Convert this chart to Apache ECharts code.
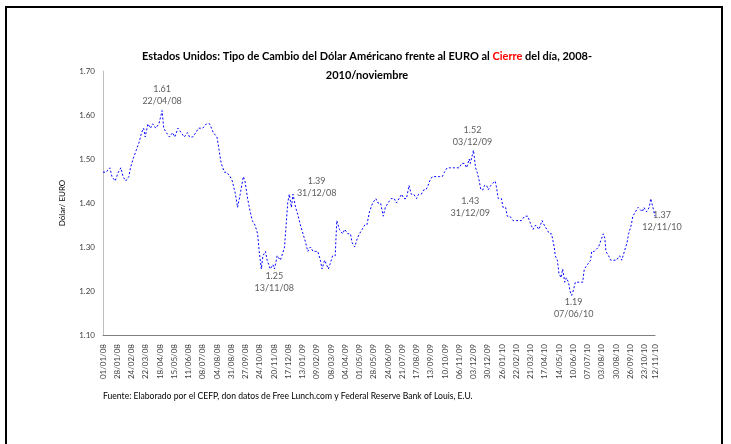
<!DOCTYPE html>
<html>
<head>
<meta charset="utf-8">
<script src="https://cdn.jsdelivr.net/npm/echarts@6/dist/echarts.min.js"></script>
<style>html,body{margin:0;padding:0;background:#fff}#c{width:731px;height:444px}</style>
</head>
<body>
<div id="c"></div>
<script>
// ---- data ----
const obsDates = ['01/01/08','07/01/08','14/01/08','18/01/08','24/01/08','30/01/08','04/02/08','08/02/08','13/02/08','19/02/08','22/02/08','27/02/08','04/03/08','10/03/08','14/03/08','18/03/08','21/03/08','26/03/08','31/03/08','04/04/08','10/04/08','16/04/08','22/04/08','25/04/08','30/04/08','06/05/08','12/05/08','16/05/08','22/05/08','28/05/08','03/06/08','09/06/08','13/06/08','19/06/08','25/06/08','30/06/08','08/07/08','15/07/08','21/07/08','28/07/08','04/08/08','08/08/08','12/08/08','18/08/08','22/08/08','29/08/08','02/09/08','08/09/08','12/09/08','17/09/08','23/09/08','26/09/08','01/10/08','06/10/08','10/10/08','15/10/08','20/10/08','23/10/08','27/10/08','30/10/08','04/11/08','07/11/08','13/11/08','18/11/08','21/11/08','26/11/08','02/12/08','05/12/08','10/12/08','16/12/08','19/12/08','23/12/08','26/12/08','31/12/08','05/01/09','09/01/09','14/01/09','19/01/09','23/01/09','28/01/09','02/02/09','06/02/09','11/02/09','16/02/09','19/02/09','24/02/09','27/02/09','03/03/09','06/03/09','11/03/09','16/03/09','19/03/09','24/03/09','30/03/09','03/04/09','09/04/09','14/04/09','17/04/09','22/04/09','27/04/09','01/05/09','06/05/09','11/05/09','15/05/09','20/05/09','26/05/09','01/06/09','05/06/09','10/06/09','15/06/09','19/06/09','24/06/09','30/06/09','06/07/09','10/07/09','15/07/09','20/07/09','24/07/09','29/07/09','03/08/09','07/08/09','12/08/09','17/08/09','21/08/09','26/08/09','31/08/09','04/09/09','08/09/09','11/09/09','16/09/09','21/09/09','25/09/09','30/09/09','05/10/09','09/10/09','14/10/09','19/10/09','23/10/09','28/10/09','02/11/09','06/11/09','11/11/09','16/11/09','20/11/09','25/11/09','27/11/09','01/12/09','03/12/09','07/12/09','10/12/09','14/12/09','17/12/09','21/12/09','24/12/09','28/12/09','31/12/09','05/01/10','08/01/10','13/01/10','15/01/10','19/01/10','25/01/10','28/01/10','02/02/10','05/02/10','10/02/10','16/02/10','22/02/10','26/02/10','04/03/10','10/03/10','16/03/10','22/03/10','26/03/10','31/03/10','06/04/10','12/04/10','16/04/10','21/04/10','26/04/10','30/04/10','05/05/10','07/05/10','11/05/10','14/05/10','18/05/10','21/05/10','25/05/10','28/05/10','01/06/10','04/06/10','07/06/10','10/06/10','14/06/10','21/06/10','28/06/10','01/07/10','07/07/10','13/07/10','15/07/10','20/07/10','23/07/10','28/07/10','03/08/10','06/08/10','09/08/10','11/08/10','16/08/10','20/08/10','25/08/10','31/08/10','06/09/10','10/09/10','15/09/10','20/09/10','23/09/10','28/09/10','01/10/10','06/10/10','11/10/10','14/10/10','19/10/10','22/10/10','27/10/10','01/11/10','04/11/10','08/11/10','12/11/10'];
const obsValues = [1.47,1.47,1.48,1.46,1.45,1.47,1.48,1.46,1.45,1.46,1.48,1.50,1.52,1.54,1.56,1.57,1.55,1.58,1.57,1.58,1.57,1.58,1.61,1.57,1.56,1.55,1.56,1.55,1.57,1.56,1.55,1.56,1.55,1.55,1.56,1.57,1.57,1.58,1.58,1.56,1.55,1.52,1.49,1.47,1.47,1.46,1.45,1.42,1.39,1.42,1.46,1.45,1.41,1.38,1.36,1.35,1.33,1.29,1.25,1.28,1.29,1.27,1.25,1.26,1.25,1.28,1.27,1.28,1.30,1.40,1.42,1.39,1.42,1.39,1.37,1.35,1.33,1.31,1.29,1.30,1.29,1.29,1.29,1.27,1.25,1.27,1.27,1.25,1.26,1.28,1.28,1.36,1.34,1.33,1.34,1.33,1.33,1.31,1.30,1.32,1.33,1.34,1.35,1.35,1.38,1.40,1.41,1.40,1.40,1.37,1.39,1.40,1.41,1.41,1.40,1.41,1.42,1.41,1.41,1.44,1.42,1.42,1.41,1.42,1.42,1.43,1.43,1.44,1.45,1.46,1.46,1.46,1.46,1.46,1.47,1.48,1.48,1.48,1.48,1.48,1.48,1.49,1.49,1.48,1.50,1.49,1.51,1.52,1.48,1.47,1.45,1.43,1.43,1.44,1.44,1.43,1.44,1.44,1.45,1.44,1.41,1.41,1.39,1.39,1.37,1.37,1.36,1.36,1.36,1.36,1.37,1.37,1.35,1.34,1.35,1.34,1.36,1.35,1.34,1.33,1.33,1.30,1.28,1.27,1.24,1.23,1.25,1.22,1.23,1.22,1.20,1.19,1.20,1.22,1.22,1.22,1.25,1.26,1.27,1.29,1.29,1.29,1.30,1.32,1.33,1.32,1.29,1.28,1.27,1.27,1.27,1.28,1.27,1.29,1.31,1.33,1.35,1.37,1.38,1.39,1.39,1.38,1.39,1.38,1.39,1.41,1.39,1.37];
const annotDates  = ['22/04/08','13/11/08','31/12/08','03/12/09','31/12/09','07/06/10','12/11/10'];
const annotValues = [1.61,1.25,1.39,1.52,1.43,1.19,1.37];
const yTicks = ['1.10','1.20','1.30','1.40','1.50','1.60','1.70'];
const firstDay = [2008,0,1], lastDay = [2010,10,12];

// ---- category axis: every calendar day ----
function fmt(d){const p=n=>String(n).padStart(2,'0');return p(d.getUTCDate())+'/'+p(d.getUTCMonth()+1)+'/'+String(d.getUTCFullYear()).slice(2);}
const categories=[];
for(let t=Date.UTC(...firstDay);t<=Date.UTC(...lastDay);t+=86400000){categories.push(fmt(new Date(t)));}
const lastIdx=categories.length-1;

const annotOffsets=[[0,-16],[4,13],[21,-20],[-1,-14],[-18,17],[2,13],[7,5]];
const FONT='Lato';
const chart=echarts.init(document.getElementById('c'),null,{renderer:'canvas'});
chart.setOption({
  animation:false,
  backgroundColor:'#fff',
  textStyle:{fontFamily:FONT},
  title:{
    text:'Estados Unidos: Tipo de Cambio del Dólar Américano frente al EURO al {r|Cierre} del día, 2008-\n2010/noviembre',
    left:362, textAlign:'center', top:42,
    textStyle:{fontFamily:FONT,fontSize:11,fontWeight:'bold',color:'#000',lineHeight:19,
      rich:{r:{color:'#ff0000',fontFamily:FONT,fontSize:11,fontWeight:'bold',lineHeight:19}}}
  },
  graphic:[
    {type:'rect',shape:{x:6,y:7,width:716,height:450},style:{fill:'none',stroke:'#000',lineWidth:2},silent:true},
    {type:'text',left:103,top:392,style:{text:'Fuente: Elaborado por el CEFP, don datos de Free Lunch.com y Federal Reserve Bank of Louis, E.U.',font:'8.6px '+FONT,fill:'#000'}}
  ],
  grid:{left:103,right:76,top:71,bottom:109,containLabel:false},
  xAxis:{
    type:'category',data:categories,boundaryGap:false,
    axisLine:{lineStyle:{color:'#808080',width:1}},
    axisTick:{show:false},
    axisLabel:{rotate:90,fontSize:8,color:'#404040',margin:9,fontFamily:FONT,
      interval:(i)=>i%27===0||i===lastIdx}
  },
  yAxis:{
    type:'value',min:1.1,max:1.7,interval:0.1,
    name:'Dólar/ EURO',nameLocation:'middle',nameGap:37,nameRotate:90,
    nameTextStyle:{fontSize:8,color:'#000',fontFamily:FONT},
    splitLine:{show:false},
    axisLine:{show:true,lineStyle:{color:'#bfbfbf'}},
    axisTick:{show:false},
    axisLabel:{fontSize:8,color:'#404040',margin:8,fontFamily:FONT,
      formatter:(v)=>yTicks[Math.round((v-1.1)*10)]}
  },
  series:[
    {type:'line',data:obsDates.map((d,i)=>[d,obsValues[i]]),showSymbol:false,symbol:'none',
      lineStyle:{color:'#0000ff',width:1,type:[2,2]},silent:true},
    {type:'scatter',data:annotDates.map((d,i)=>[d,annotValues[i]]),symbolSize:0,silent:true,
      label:{show:true,position:'inside',fontSize:9,lineHeight:12,color:'#333333',fontFamily:FONT,
        formatter:(p)=>annotValues[p.dataIndex].toFixed(2)+'\n'+annotDates[p.dataIndex]},
      labelLayout:(p)=>({dx:annotOffsets[p.dataIndex][0],dy:annotOffsets[p.dataIndex][1]})}
  ]
});
</script>
</body>
</html>
